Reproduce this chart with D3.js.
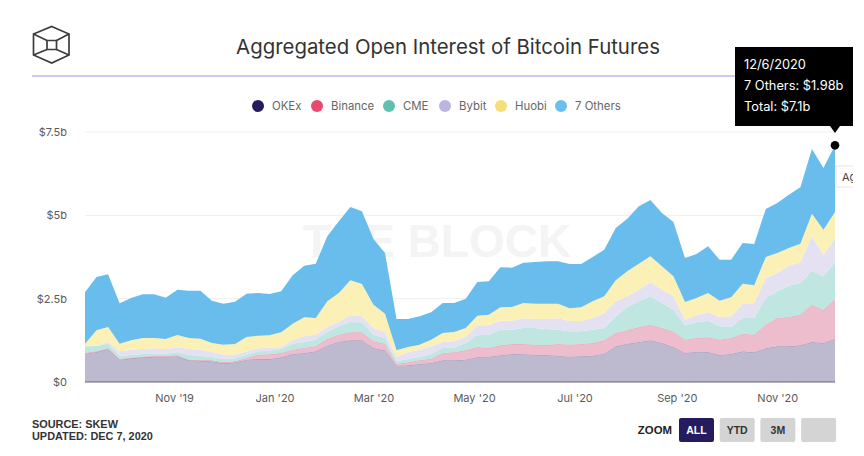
<!DOCTYPE html>
<html>
<head>
<meta charset="utf-8">
<script src="https://cdn.jsdelivr.net/npm/d3@7"></script>
<style>
  html, body { margin: 0; padding: 0; background: #fff; }
  svg { display: block; font-family: Inter, "Noto Sans", sans-serif; }
  .axis text { font-size: 11px; fill: #5a5a5a; font-family: Inter, sans-serif; }
  .axis path, .axis line { display: none; }
</style>
</head>
<body>
<svg id="chart" width="864" height="456"></svg>
<script>
// upper edge of every band of the stack, in $b, weekly
const okexTop = [.85,.90,.99,.67,.71,.74,.76,.76,.77,.65,.64,.62,.56,.59,.67,.69,.69,.74,.84,.87,.92,1.09,1.21,1.25,1.25,1.02,.95,.49,.50,.54,.57,.65,.65,.67,
  .75,.76,.80,.84,.83,.82,.81,.79,.76,.77,.79,.85,1.07,1.15,1.20,1.25,1.17,1.05,.87,.91,.90,.81,.84,.92,.89,1.01,1.07,1.07,1.10,1.20,1.17,1.30];
const binanceTop = [.87,.92,1.01,.69,.73,.76,.78,.78,.80,.67,.66,.65,.59,.62,.72,.82,.83,.87,.97,1.03,1.07,1.29,1.42,1.49,1.49,1.22,1.15,.54,.59,.65,.70,.87,.89,.95,
  1.05,1.02,1.10,1.14,1.14,1.12,1.11,1.14,1.12,1.14,1.17,1.25,1.47,1.55,1.65,1.72,1.62,1.51,1.27,1.32,1.34,1.27,1.32,1.45,1.42,1.72,1.92,1.95,2.02,2.32,2.17,2.49];
const cmeTop = [1.07,1.08,1.15,.79,.81,.84,.85,.85,.90,.81,.79,.75,.69,.71,.82,.92,.94,.99,1.15,1.20,1.27,1.51,1.67,1.80,1.79,1.42,1.32,.62,.69,.75,.84,1.02,1.03,1.17,
  1.40,1.42,1.57,1.57,1.62,1.62,1.59,1.57,1.52,1.52,1.57,1.62,1.97,2.25,2.42,2.57,2.37,2.17,1.70,1.79,1.84,1.67,1.65,1.92,1.92,2.52,2.72,2.89,2.97,3.34,3.17,3.60];
const bybitTop = [1.09,1.09,1.20,.92,.97,.99,1.01,.99,1.04,.99,.97,.90,.82,.82,.92,1.01,1.02,1.05,1.25,1.37,1.42,1.65,1.80,2.00,1.97,1.62,1.49,.75,.90,.97,1.07,1.20,1.22,1.36,
  1.70,1.70,1.84,1.84,1.91,1.89,1.89,1.91,1.83,1.82,1.92,2.07,2.42,2.57,2.77,2.99,2.77,2.57,1.87,2.00,2.09,1.94,1.97,2.34,2.37,3.12,3.27,3.49,3.59,4.37,3.82,4.29];
const huobiTop = [1.15,1.55,1.65,1.15,1.25,1.32,1.32,1.29,1.41,1.32,1.30,1.17,1.12,1.14,1.35,1.39,1.40,1.49,1.75,1.94,1.92,2.42,2.67,3.05,2.94,2.32,2.05,.95,1.05,1.12,1.27,1.47,1.50,1.62,
  1.99,2.02,2.24,2.25,2.37,2.35,2.35,2.35,2.21,2.24,2.42,2.57,3.05,3.32,3.55,3.77,3.47,3.17,2.40,2.52,2.67,2.44,2.54,2.95,2.90,3.75,3.87,4.02,4.15,5.05,4.57,5.10];
const othersTop = [2.69,3.15,3.23,2.36,2.52,2.63,2.63,2.53,2.77,2.74,2.74,2.44,2.35,2.41,2.65,2.67,2.64,2.72,3.20,3.49,3.55,4.37,4.82,5.25,5.12,4.29,3.87,1.89,1.89,1.97,2.09,2.37,2.37,2.50,
  3.00,3.02,3.44,3.43,3.58,3.60,3.62,3.62,3.54,3.54,3.75,3.97,4.62,4.90,5.27,5.46,5.07,4.80,3.72,3.84,4.07,3.67,3.67,4.17,4.14,5.19,5.37,5.62,5.84,6.99,6.42,7.10];

const seriesNames = ["OKEx", "Binance", "CME", "Bybit", "Huobi", "7 Others"];
const seriesTops = [okexTop, binanceTop, cmeTop, bybitTop, huobiTop, othersTop];
const legendColors = ["#241c5e", "#e8496f", "#62bfae", "#bdb4e0", "#f7de78", "#6bbfec"];
const areaColors = ["#bdb9ce", "#edbccd", "#bfe6e1", "#e4e1f2", "#fbf0b5", "#69bdec"];
const legendX = [258, 317, 389, 445, 501, 561];

const yTicks = [0, 2.5, 5, 7.5];
const yTickLabels = ["$0", "$2.5b", "$5b", "$7.5b"];
const xTicks = [new Date(2019, 10, 1), new Date(2020, 0, 1), new Date(2020, 2, 1), new Date(2020, 4, 1),
  new Date(2020, 6, 1), new Date(2020, 8, 1), new Date(2020, 10, 1)];

const tooltipLines = ["12/6/2020", "7 Others: $1.98b", "Total: $7.1b"];
const zoomButtons = ["ALL", "YTD", "3M", ""];

// Sundays, Sep 8 2019 to Dec 6 2020
const dates = d3.timeWeek.range(new Date(2019, 8, 8), new Date(2020, 11, 7));

const svg = d3.select("#chart");

const x = d3.scaleTime().domain([dates[0], dates[dates.length - 1]]).range([85, 835]);
const y = d3.scaleLinear().domain([0, 7.5]).range([382, 132]);

// logo
const logo = svg.append("g").attr("fill", "none").attr("stroke", "#3c3c3c").attr("stroke-width", 1.7);
logo.append("path").attr("d", "M51.7 26.5L69 34V55L51.7 63L33.5 55V34Z");
logo.append("path").attr("d", "M47 40.5H56.5V49.5H47Z");
logo.append("path").attr("d", "M33.5 34L47 40.5M69 34L56.5 40.5M33.5 55L47 49.5M69 55L56.5 49.5");

svg.append("text").attr("x", 448).attr("y", 54).attr("text-anchor", "middle")
  .attr("font-size", 20.4).attr("fill", "#333").text("Aggregated Open Interest of Bitcoin Futures");
svg.append("line").attr("x1", 32).attr("x2", 735).attr("y1", 76).attr("y2", 76)
  .attr("stroke", "#a78fe0").attr("stroke-width", 1.2);

// legend
const legend = svg.selectAll(".legend").data(seriesNames).enter().append("g")
  .attr("transform", (d, i) => "translate(" + legendX[i] + ",106)");
legend.append("circle").attr("r", 6).attr("fill", (d, i) => legendColors[i]);
legend.append("text").attr("x", 14).attr("y", 4).attr("font-size", 11.4).attr("fill", "#666").text(d => d);

// grid and watermark
svg.selectAll(".grid").data(yTicks.slice(1)).enter().append("line")
  .attr("x1", 85).attr("x2", 835).attr("y1", d => y(d)).attr("y2", d => y(d))
  .attr("stroke", "#efefef");
svg.append("text").attr("x", 437).attr("y", 257).attr("text-anchor", "middle")
  .attr("font-family", "Liberation Sans").attr("font-weight", "bold").attr("font-size", 46)
  .attr("fill", "#f4f4f4").text("THE BLOCK");

// bands, each from the edge below it up to its own edge
seriesTops.forEach((tops, s) => {
  const below = s === 0 ? null : seriesTops[s - 1];
  const area = d3.area()
    .x((d, i) => x(dates[i]))
    .y0((d, i) => y(below ? below[i] : 0))
    .y1(d => y(d));
  svg.append("path").datum(tops).attr("d", area).attr("fill", areaColors[s]);
  if (s < 2) {
    const edge = d3.line().x((d, i) => x(dates[i])).y(d => y(d));
    svg.append("path").datum(tops).attr("d", edge).attr("fill", "none")
      .attr("stroke", legendColors[s]).attr("stroke-opacity", 0.2);
  }
});

svg.append("line").attr("x1", 85).attr("x2", 835).attr("y1", y(0)).attr("y2", y(0))
  .attr("stroke", "#66647a").attr("stroke-width", 1.2);

// axes
svg.append("g").attr("class", "axis").attr("transform", "translate(0,391)")
  .call(d3.axisBottom(x).tickValues(xTicks).tickSize(0).tickFormat(d3.timeFormat("%b '%y")));
svg.append("g").attr("class", "axis").attr("transform", "translate(70,0)")
  .call(d3.axisLeft(y).tickValues(yTicks).tickSize(0).tickFormat((d, i) => yTickLabels[i]));

// footer
const footer = svg.append("g").attr("font-family", "Liberation Sans").attr("font-weight", "bold")
  .attr("font-size", 10.9).attr("fill", "#333");
footer.append("text").attr("x", 32).attr("y", 428).text("SOURCE: SKEW");
footer.append("text").attr("x", 32).attr("y", 440).text("UPDATED: DEC 7, 2020");

// zoom buttons
svg.append("text").attr("x", 672).attr("y", 434).attr("text-anchor", "end")
  .attr("font-family", "Liberation Sans").attr("font-weight", "bold").attr("font-size", 11.4)
  .attr("fill", "#222").text("ZOOM");
const buttons = svg.selectAll(".btn").data(zoomButtons).enter().append("g")
  .attr("transform", (d, i) => "translate(" + (679 + i * 40.7) + ",418)");
buttons.append("rect").attr("width", 35).attr("height", 24).attr("rx", 2)
  .attr("fill", (d, i) => i === 0 ? "#241c5e" : "#d4d4d4");
buttons.append("text").attr("x", 17.5).attr("y", 16).attr("text-anchor", "middle")
  .attr("font-family", "Liberation Sans").attr("font-weight", "bold").attr("font-size", 10.5)
  .attr("fill", (d, i) => i === 0 ? "#fff" : "#333").text(d => d);

// hover state on the last point
const lastX = x(dates[dates.length - 1]);
svg.append("circle").attr("cx", lastX).attr("cy", y(othersTop[othersTop.length - 1])).attr("r", 4.3).attr("fill", "#000");

const clip = svg.append("defs").append("clipPath").attr("id", "tab-clip");
clip.append("rect").attr("x", 830).attr("y", 160).attr("width", 23).attr("height", 32);
const tab = svg.append("g").attr("clip-path", "url(#tab-clip)");
tab.append("rect").attr("x", 836).attr("y", 166).attr("width", 40).attr("height", 21)
  .attr("fill", "#fff").attr("stroke", "#e6e6e6");
tab.append("text").attr("x", 842).attr("y", 181).attr("font-size", 11).attr("fill", "#444").text("Ag");

svg.append("path").attr("d", "M735 47H853V126H" + (lastX + 5) + "L" + lastX + " 133L" + (lastX - 5) + " 126H735Z").attr("fill", "#000");
svg.selectAll(".tip").data(tooltipLines).enter().append("text")
  .attr("x", 744).attr("y", (d, i) => 69 + i * 21).attr("font-size", 12.8).attr("fill", "#fff").text(d => d);
</script>
</body>
</html>
